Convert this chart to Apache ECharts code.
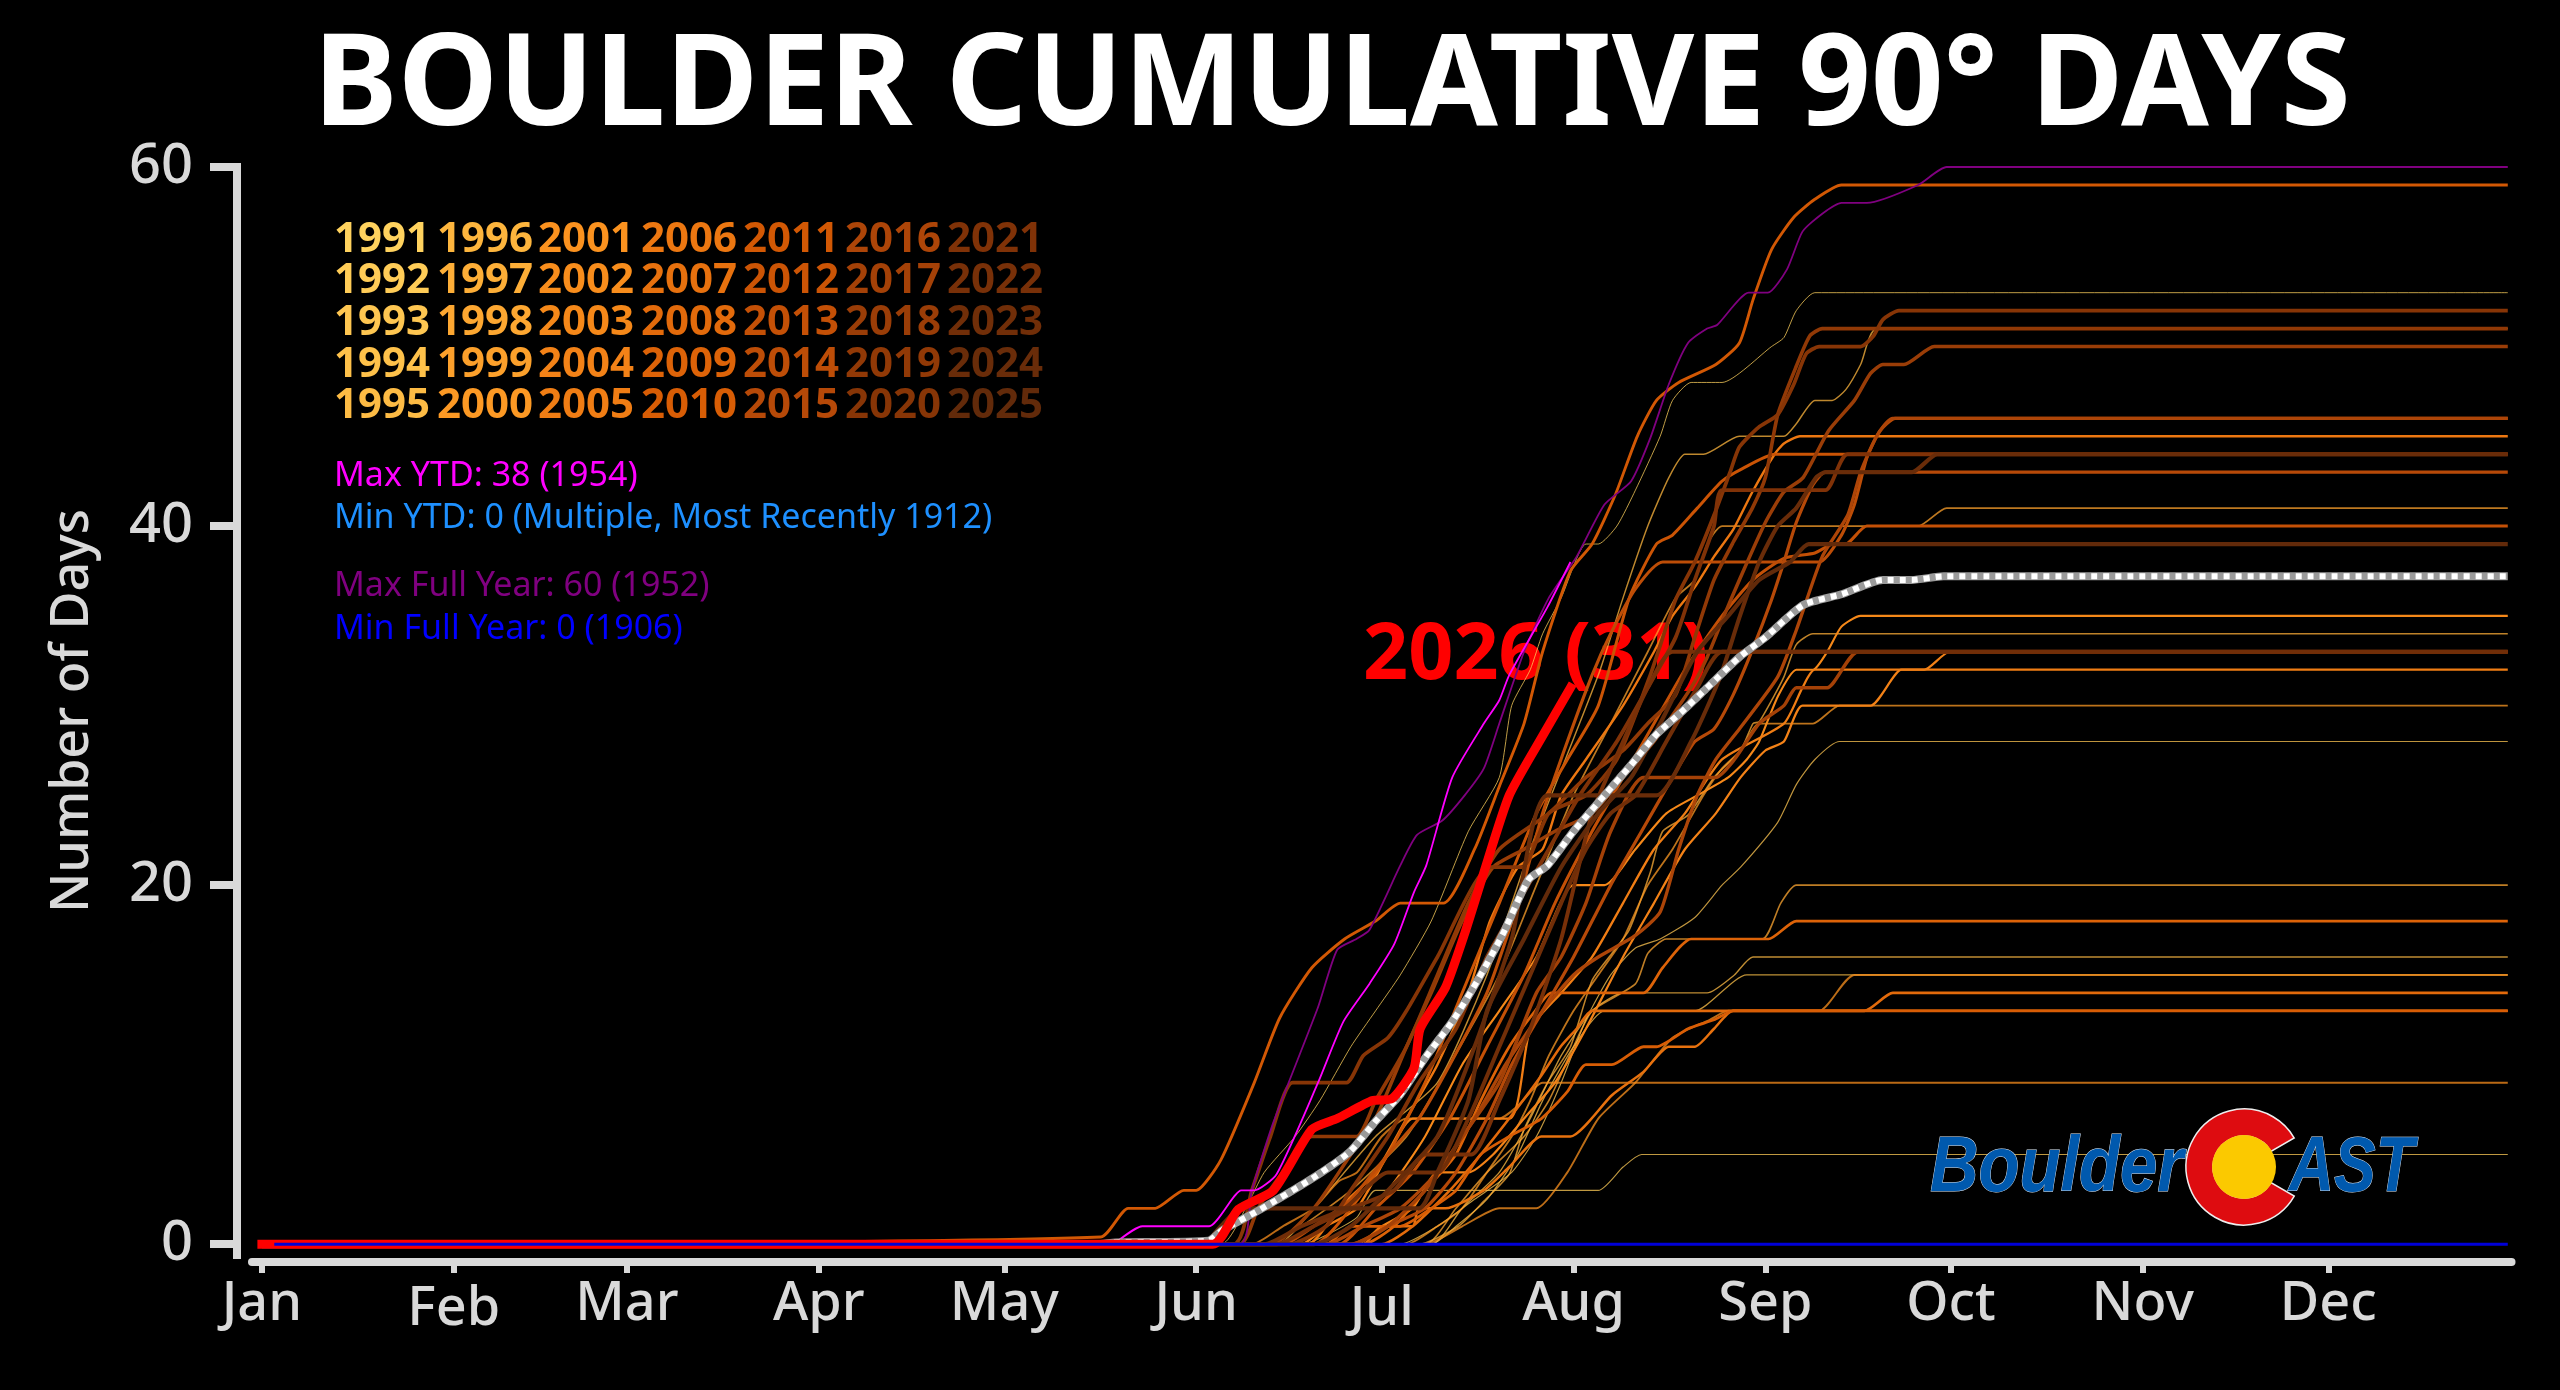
<!DOCTYPE html>
<html><head><meta charset="utf-8">
<style>html,body{margin:0;padding:0;background:#000}#c{width:2560px;height:1390px}</style>
<script src="https://cdn.jsdelivr.net/npm/echarts@6/dist/echarts.min.js"></script>
</head><body><div id="c"></div>
<script>
const monthNames=['Jan','Feb','Mar','Apr','May','Jun','Jul','Aug','Sep','Oct','Nov','Dec'];
const monthStarts=[0,31,59,90,120,151,181,212,243,273,304,334];
const yTicks=[0,20,40,60];
const lastDay=363;
const title='BOULDER CUMULATIVE 90° DAYS';
const yName='Number of Days';
const todayLabel='2026 (31)';
const statLines=['Max YTD: 38 (1954)','Min YTD: 0 (Multiple, Most Recently 1912)','Max Full Year: 60 (1952)','Min Full Year: 0 (1906)'];
const years=[1991,1992,1993,1994,1995,1996,1997,1998,1999,2000,2001,2002,2003,2004,2005,2006,2007,2008,2009,2010,2011,2012,2013,2014,2015,2016,2017,2018,2019,2020,2021,2022,2023,2024,2025];

const y1991=[[155,0],[159,2],[162,4],[167,6],[171,8],[176,11],[180,13],[184,15],[189,18],[195,23],[200,26],[202,30],[205,32],[207,34],[210,36],[214,39],[216,39],[219,40],[222,42],[226,45],[228,47],[231,48],[236,48],[244,50],[246,50.5],[248,52],[251,53]];
const y1992=[[168,0],[172,0.5],[177,1.5],[180,3],[216,3],[220,4.3],[223,5]];
const y1993=[[184,0],[190,1],[196,2.5],[202,4],[206,6],[210,9],[214,12.5],[218,15],[222,16.5],[226,17],[231.6,18.2],[236,20],[239,21],[245,23.5],[248,25.6],[251,27],[255,28]];
const y1994=[[189,0],[193,1],[198,2.5],[203,5],[207,8],[212,11],[217,13],[231.6,13],[240,15]];
const y1995=[[189,0],[194,2],[200,4],[205,7],[210,10.5],[215,13],[220,14],[233.6,14],[238,15],[241,16]];
const y1996=[[164,0],[170,2],[180,6],[190,9],[198,15],[205,22],[216,31.7],[220,36],[224,40],[227.4,42.7],[230,44],[233,44],[238.8,45],[246,45],[248,45.7],[251,47],[253.8,47],[256,47.6],[258.4,49],[261,51]];
const y1997=[[187,0],[193.4,1],[197.5,2.4],[201.6,3.9],[204,6.4],[207.8,9],[211.5,11],[215,14.7],[218.2,16.2],[221,17.5],[224.4,20.7],[226.4,23],[230.5,23.9],[234.7,26],[239,27.5],[241,29],[242,29.1],[244.5,30.6],[246,31.6],[248,33.4],[250.7,34]];
const y1998=[[188,0],[193,2],[198,4],[204,6],[208,8],[212,11],[215,13],[222,14.5],[224,16.2],[227,17],[242.5,17],[245.5,19],[248,20]];
const y1999=[[162,0],[168,1],[176,3],[185,6],[192,10],[200,15],[206,20],[212,25],[218,29],[224,33],[228.5,36],[231.6,37],[233.6,39],[236,40],[267.7,40],[272.3,41]];
const y2000=[[185,0],[190,1],[194,2],[198,4],[202,6],[205,8],[208,10.5],[212,13],[216,15],[220,17],[224,20],[228,22],[233,25],[236,26.5],[239,27.5],[242,29],[250.7,29],[255,30]];
const y2001=[[188,0],[194,1],[200,2],[206,2],[211,4],[216,7],[222,9],[228,11.5],[234,12.5],[237,13],[251.7,13],[257.4,15]];
const y2002=[[160,0],[165,1],[170,2],[174,3.5],[177,4],[181,6],[185,7],[200,7],[203,7.7],[207,9]];
const y2003=[[170,0],[176,1],[182,3],[188,6],[194,10],[200,13],[206,16],[212,20],[217,20],[222,22],[227,24],[232,25],[237,26],[240,27],[242,28],[245,30.5],[248,32],[250.7,32],[253,33],[255.3,34.4],[258.4,35]];
const y2004=[[177,0],[181,1],[186,2],[190,4],[195,4],[199,5],[204,7],[209,9],[214,12],[220,16],[225,19],[230,22],[235,24],[239,26],[243,27.5],[246,28],[249,30],[260,30],[265,32],[268.7,32],[272.8,33]];
const y2005=[[168,0],[172,1],[177,2],[182,5],[186,7],[201.6,7],[205,12],[210,14],[215,16],[220,19],[225,22],[230,24],[236,27],[246,29],[249,31],[251,32]];
const y2006=[[169,0],[174,2],[180,4],[185,7],[190,10],[195,14],[198.5,18],[203,21],[207,22],[210,25],[214,27],[220,30],[225,33],[228,35],[231.6,36.6],[234.7,38.3],[237.8,39.8],[240.9,41.9],[244.5,44],[246,44.6],[248.6,45]];
const y2007=[[178,0],[181,1],[186,1],[187,2],[191.3,2],[197.5,3],[201.6,4.3],[206.8,6],[211.5,6],[218.2,8.3],[223.3,9.6],[227.4,11],[231.6,11],[234.7,12],[237.8,13]];
const y2008=[[181,0],[186,1],[192,3],[197,5],[201.6,7],[206.8,9.4],[209.9,11],[212.5,12],[215,13],[259,13],[263.6,14]];
const y2009=[[178,0],[183,1],[188,3],[193,5],[197,8],[201.6,11],[205.8,13],[208.4,14],[223.3,14],[226.4,15.4],[231,17],[243.5,17],[248,18]];
const y2010=[[172,0],[176,1],[184,1],[189,2],[193,3],[197,5],[201.6,6],[206.8,7],[211,8.5],[214,10],[218.2,10],[223.3,11],[225.4,11],[230.5,12],[234.7,12.5],[237.8,13]];
const y2011=[[135.6,0.4],[140,2],[144.4,2],[149,3],[151,3],[155,4.7],[160.4,9],[164.5,12.6],[169.7,15.4],[175,17],[180,18],[184,19],[191,19],[196,22],[200,25.5],[204,29],[207,33],[211.5,37.5],[215,39],[218.7,41.7],[222.3,45],[225.4,47],[229,48],[235,49],[238.8,50.2],[241,52.6],[244,55.4],[247.6,57.2],[251,58.2],[255.3,59]];
const y2012=[[170,0],[176,2],[182,5],[188,9],[194,14],[200,19],[206,24],[211,27],[216,30],[221,36],[225.4,39],[228,39.5],[232,41],[236,42.5],[239.3,43.2],[244.5,44]];
const y2013=[[174,0],[180,2],[186,4],[192,7],[198,11],[204,15],[209,19],[215,23],[220,26],[225,29],[230,32],[236,35],[241,37],[246,38.2],[251,38.5],[254,39],[256,39],[259.4,40]];
const y2014=[[165,0],[170,1],[176,2.5],[182,5],[187,7],[192,10],[198,14],[203,19],[207,24],[211,28],[215,31.7],[218,34],[222,36.5],[226.4,38],[251.7,38],[255.3,39.5],[257.4,41.2],[259.4,43.8],[261.5,45.3],[264,46]];
const y2015=[[176,0],[182,1],[188,2],[193,4],[198,7],[202,10],[207,13],[212,16],[218,20],[223,23],[228,26],[231.6,28],[234.7,28.7],[237.8,30.6],[240.9,33.1],[244,35.9],[246,38],[248,40.2],[250.7,42.3],[252.7,43]];
const y2016=[[172,0],[178,1],[184,2],[190,4],[196,7],[201,10],[207,13],[212,15],[216,16],[222,17.2],[226,18.5],[229,22],[232,25],[235,27],[238.8,28.7],[245,31.6],[248,34.2],[252.2,38.3],[256.3,40.6],[258.4,43],[261,45],[263.6,46]];
const y2017=[[176,0],[182,1],[188,3],[194,6],[200,9],[206,14],[210,16],[214,19],[218,23],[223.3,26],[235,26],[238,27],[242,29],[246,30],[248,31],[253,31],[258,33]];
const y2018=[[163,0],[170,2],[176,5],[180,7],[185,11],[189,14],[194,18],[199,21],[204,22],[209,23],[215,24],[220,26],[225,28],[231,31],[233.6,32.7],[236.2,34.9],[238.8,37],[243,40.2],[246,41.9],[249.1,42.7],[253.2,45.3],[257.4,47],[260,48.5],[262,49],[265.4,49],[270.3,50]];
const y2019=[[158,0],[161,2],[165,4],[169.7,6],[176.9,6],[180,8],[185,11],[190,15],[195,19],[200,22],[208,24],[214,26],[220,27.5],[224,29],[228.5,30.6],[231.6,33.8],[234.7,37],[237.8,39.1],[240.9,41],[243,42.7],[245,46.2],[248,48.9],[250.2,50.6],[252.2,51]];
const y2020=[[157,0],[160,3],[163,6],[166.6,9],[175.3,9],[178,10.5],[182,11.5],[185,13],[190,16],[198.5,21],[203.7,21],[208,24],[214,25],[219,27],[224.4,31.7],[228.5,35.9],[231.6,38],[234.7,40.6],[237.3,43],[238.8,44.4],[241.9,45.5],[245,46.2],[247.6,47.9],[249.6,49.6],[251.7,50],[258.4,50],[260.5,50.6],[262,51.5],[264.6,52]];
const y2021=[[166,0],[172,1],[176,3],[182,6],[187,9],[193,12],[198,16],[203,19],[208,22],[213,25],[219,28],[224,31],[228.5,33.8],[231.6,37],[234.7,40],[236,42],[252.7,42],[256.3,44]];
const y2022=[[164,0],[170,1],[176,2],[183,3],[188,5],[195.5,5],[200,8],[205,12],[210,17],[215,24],[220,28],[224,31],[228,33]];
const y2023=[[162,0],[168,1],[175,2],[182,4],[190,4],[195,7],[200,11],[205,15],[210,19],[214,22],[218,24],[222,25],[227,28],[232,31],[236,33]];
const y2024=[[170,0],[176,1],[182,3],[190,6],[196,11],[202,17],[207.8,25],[225.4,25],[231,28],[235.7,31.6],[238.8,34.9],[242,38],[245,40],[248,41],[251.2,42.7],[252.7,43],[266.7,43],[270.8,44]];
const y2025=[[152,0],[155,1],[158.3,2],[187,2],[190,4],[195,8],[198,13],[204,17],[210,21],[216,24],[221.3,26],[226,29],[232,33],[237,35],[242,37],[247,38],[250,39]];
const yearValues=[y1991,y1992,y1993,y1994,y1995,y1996,y1997,y1998,y1999,y2000,y2001,y2002,y2003,y2004,y2005,y2006,y2007,y2008,y2009,y2010,y2011,y2012,y2013,y2014,y2015,y2016,y2017,y2018,y2019,y2020,y2021,y2022,y2023,y2024,y2025];

const maxYtd1954=[[137.7,0],[142.3,1],[153.1,1],[158.3,3],[160.4,3],[164,3.9],[170.7,9],[174.8,12.4],[179,14.5],[183,16.7],[186.2,19.6],[188.2,21.1],[192.4,26],[197.5,29],[200,30.3],[201.6,31.7],[207.8,35.5],[211.5,38]];
const maxFull1952=[[158,0],[160,3],[163.5,6.8],[170.7,13.2],[173.8,16.4],[176.9,17],[179,17.5],[184,21.1],[186.7,22.8],[190.8,23.6],[194.4,25],[197.5,26.5],[200,29],[204,33],[208,36],[212.5,38.3],[217,41.2],[221.3,42.5],[224.4,44.9],[227.4,47.9],[230.5,50.2],[233.6,51],[235.2,51.2],[240.3,53],[243.4,53],[246.5,54.3],[249,56.4],[252.2,57.4],[255.3,58],[259.4,58],[267.7,59],[272.3,60]];
const minFull1906=[[2,0],[363,0]];
const average=[[135,0],[138,0.1],[153,0.2],[155.2,0.77],[161.4,1.94],[169.7,3.65],[175.8,5.14],[180,6.85],[184,8.34],[188.2,10.47],[192.4,12.4],[196.5,14.7],[200.6,17.3],[204.7,20.3],[207.8,21.1],[212,23],[217,25],[221.3,26.7],[225.4,28.4],[229.5,29.66],[233.6,31],[238.8,32.7],[243,33.8],[249.1,35.6],[255.3,36.2],[262,37],[266.7,37],[271.8,37.2]];
const current2026=[[0,0],[153.7,0],[157.8,1.94],[163.5,3],[169.7,6.4],[173.8,7],[179.5,8],[182.6,8.1],[186.2,9.8],[187.2,12],[191.3,14.3],[194.4,17.3],[197.5,20.7],[201.6,25],[206.8,28.2],[211.5,31]];

const stops=['#FFD25E','#FDB63E','#FC9420','#EE7A12','#D65A04','#B44808','#863406','#622A0A'];
const yearColor=i=>echarts.color.lerp(i/(years.length-1),stops);
const pad=a=>{const r=a.slice();if(r[0][0]>0)r.unshift([0,0]);const l=r[r.length-1];if(l[0]<lastDay)r.push([lastDay,l[1]]);return r;};
const SM={smooth:0.2};
const line=(name,data,color,width,extra)=>Object.assign({name,type:'line',data,showSymbol:false,symbol:'none',silent:true,animation:false,lineStyle:{color,width,join:'round'}},SM,extra||{});

const series=years.map((y,i)=>line(String(y),pad(yearValues[i]),yearColor(i),1+i/34*3.2,{lineStyle:{color:yearColor(i),width:1+i/34*3.2,join:'round',opacity:i<12?0.75:1}}));
series.push(line('Max Full Year',pad(maxFull1952),'#800080',1.8));
series.push(line('Max YTD',maxYtd1954,'#FF00FF',1.8));
series.push(line('Average base',pad(average),'#9A9A9A',8));
series.push(line('Average',pad(average),'#FFFFFF',6,{lineStyle:{color:'#FFFFFF',width:6,type:[6,6],join:'round'}}));
series.push(line('2026',current2026,'#FF0000',9,{lineStyle:{color:'#FF0000',width:9,cap:'square',join:'round'}}));
series.push(line('Min Full Year',minFull1906,'#0000D8',3,{smooth:false}));

const graphic=[];
const F='"Noto Sans"';
const colX=[334,437,538,641,743,845,947],rowY=[240,281,323,365,406];
years.forEach((y,i)=>{graphic.push({type:'text',x:colX[Math.floor(i/5)],y:rowY[i%5],z:5,style:{text:String(y),fill:yearColor(i),font:'bold 42px '+F,textVerticalAlign:'middle'}});});
const statY=[476,518,586,629],statC=['#FF00FF','#1E90FF','#800080','#0000FF'];
statLines.forEach((t,i)=>graphic.push({type:'text',x:334,y:statY[i],z:5,style:{text:t,fill:statC[i],font:'34px '+F,textVerticalAlign:'middle'}}));
graphic.push({type:'text',x:1363,y:656,z:1,style:{text:todayLabel,fill:'#FF0000',font:'bold 79px '+F,textVerticalAlign:'middle'}});
// logo
const L='"Liberation Sans"';
graphic.push({type:'text',x:1930,y:1208,z:10,scaleX:0.86,style:{text:'Boulder',fill:'#0059AE',stroke:'#D8E4F0',lineWidth:1,font:'italic bold 78px '+L,textVerticalAlign:'bottom'}});
graphic.push({type:'sector',z:10,shape:{cx:2244,cy:1167,r:58,r0:31,startAngle:Math.PI/6,endAngle:Math.PI*11/6,clockwise:true},style:{fill:'#DE0C10',stroke:'#EEE',lineWidth:1.5}});
graphic.push({type:'circle',z:11,shape:{cx:2244,cy:1167,r:32},style:{fill:'#FBC900'}});
graphic.push({type:'text',x:2289,y:1208,z:10,scaleX:0.8,style:{text:'AST',fill:'#0059AE',stroke:'#D8E4F0',lineWidth:1,font:'italic bold 78px '+L,textVerticalAlign:'bottom'}});

const chart=echarts.init(document.getElementById('c'),null,{renderer:'canvas',width:2560,height:1390});
const lowLabels=new Set(['Feb','Jul']);
const axisFont={color:'#D9D9D9',fontFamily:F,fontWeight:500};
chart.setOption({
  backgroundColor:'#000',animation:false,
  title:{text:title,left:1327,top:20,textAlign:'center',textStyle:{color:'#fff',fontFamily:F,fontWeight:'bold',fontSize:127}},
  grid:{left:252,top:167,width:2259.5,height:1088,containLabel:false},
  xAxis:{type:'value',min:-1.6,max:363.6,offset:7,splitLine:{show:false},
    axisLine:{onZero:false,lineStyle:{color:'#D9D9D9',width:8}},
    axisTick:{show:true,length:11,customValues:monthStarts,lineStyle:{color:'#D9D9D9',width:6}},
    axisLabel:Object.assign({show:true,customValues:monthStarts,margin:16,fontSize:54,
      formatter:v=>{const n=monthNames[monthStarts.indexOf(v)];return lowLabels.has(n)?'{low|'+n+'}':n;},
      rich:{low:Object.assign({fontSize:54,padding:[5,0,0,0]},axisFont)}},axisFont)},
  yAxis:{type:'value',min:-0.6,max:60,offset:15,name:yName,nameLocation:'middle',nameGap:138,nameTextStyle:Object.assign({fontSize:52},axisFont),splitLine:{show:false},
    axisLine:{show:true,onZero:false,lineStyle:{color:'#D9D9D9',width:8,cap:'square'}},
    axisTick:{show:true,length:27,customValues:yTicks,lineStyle:{color:'#D9D9D9',width:8}},
    axisLabel:Object.assign({show:true,customValues:yTicks,margin:44,fontSize:56,padding:[10,0,0,0]},axisFont)},
  graphic:graphic,
  series:series
});
</script></body></html>
